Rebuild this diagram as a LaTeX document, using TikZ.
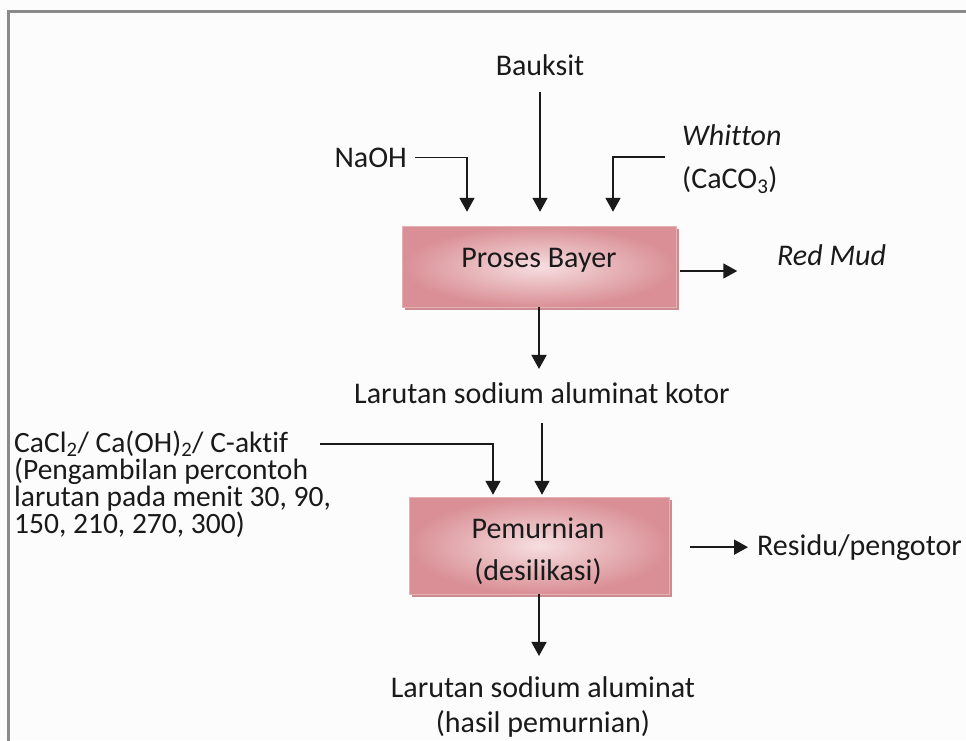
\documentclass[tikz,border=0pt]{standalone}
\usepackage{fontspec}
\setmainfont{Carlito}[Ligatures=NoCommon]
\usetikzlibrary{arrows.meta}
\definecolor{framegray}{HTML}{8A8A8A}
\definecolor{boxdark}{HTML}{D98F95}
\definecolor{boxlight}{HTML}{F6DEE0}
\definecolor{boxshadow}{HTML}{CC8C91}
\definecolor{bg}{HTML}{FCFCFC}
\definecolor{ink}{HTML}{1A1A1A}
\tikzset{
  txt/.style={inner sep=0pt, font=\fontsize{30}{34}\selectfont, text=ink},
  arr/.style={line width=1.7pt, draw=ink, -{Triangle[width=15pt,length=14pt]}},
  procbox/.style={draw=boxdark!70!white, line width=0.5pt, inner color=boxlight, outer color=boxdark},
  boxshade/.style={fill=boxshadow},
}
\begin{document}
\begin{tikzpicture}[x=1pt,y=-1pt]
\useasboundingbox (0,0) rectangle (966,740);
\fill[bg] (0,0) rectangle (966,740);
\draw[framegray, line width=2.2pt] (8.5,741) -- (8.5,11.5) -- (967,11.5);

% boxes
\fill[boxshade] (405,229) rectangle (679,310);
\node[procbox, minimum width=274pt, minimum height=81pt] (bayer) at (539,266.5) {};
\node[txt, anchor=base] (bayertxt) at (539,267) {Proses Bayer};

\fill[boxshade] (412,500) rectangle (672,597);
\node[procbox, minimum width=260pt, minimum height=97pt] (pem) at (539,545.5) {};
\node[txt, anchor=base, align=center, font=\fontsize{30}{42}\selectfont] (pemtxt) at (538,580) {Pemurnian\\(desilikasi)};

% texts
\node[txt, anchor=base] (bauksit) at (540,75) {Bauksit};
\node[txt, anchor=base east] (naoh) at (407,167) {NaOH};
\node[txt, anchor=base west, align=left, font=\fontsize{30}{43}\selectfont] (whitton) at (682,188) {\textit{Whitton}\\(CaCO\textsubscript{3})};
\node[txt, anchor=base west, font=\fontsize{30}{34}\selectfont\itshape] (redmud) at (777,265) {Red Mud};
\node[txt, anchor=base] (kotor) at (542,403) {Larutan sodium aluminat kotor};
\node[txt, anchor=base west, align=left, font=\fontsize{29.5}{27}\selectfont] (cacl) at (14,533) {CaCl\textsubscript{2}/ Ca(OH)\textsubscript{2}/ C-aktif\\(Pengambilan percontoh\\larutan pada menit 30, 90,\\150, 210, 270, 300)};
\node[txt, anchor=base west] (residu) at (757,555) {Residu/pengotor};
\node[txt, anchor=base, align=center, font=\fontsize{30}{35}\selectfont] (hasil) at (543,732) {Larutan sodium aluminat\\(hasil pemurnian)};

% free ends
\coordinate (wstart) at (665,157);
\coordinate (cstart) at (320,444);

% connectors
\draw[arr, shorten <=17pt, shorten >=14pt] (bauksit.south) -- (bauksit.south |- bayer.north);
\draw[arr, shorten >=14pt] ([xshift=8pt]naoh.east) -| ([xshift=-72pt]bayer.north);
\draw[arr, shorten >=14pt] (wstart) -| ([xshift=74pt]bayer.north);
\draw[arr] ([xshift=4pt,yshift=-4.5pt]bayer.east) -- ++(57,0);
\draw[arr, shorten >=13pt] (bayer.south) -- (bayer.south |- kotor.north);
\draw[arr, shorten <=20pt, shorten >=2pt] (kotor.south) -- (kotor.south |- pem.north);
\draw[arr, shorten >=2pt] (cstart) -| ([xshift=-46pt]pem.north);
\draw[arr, shorten >=9pt] ([xshift=21pt]pem.east |- residu.west) -- (residu.west);
\draw[arr, shorten >=20pt] (pem.south) -- (pem.south |- hasil.north);
\end{tikzpicture}
\end{document}
